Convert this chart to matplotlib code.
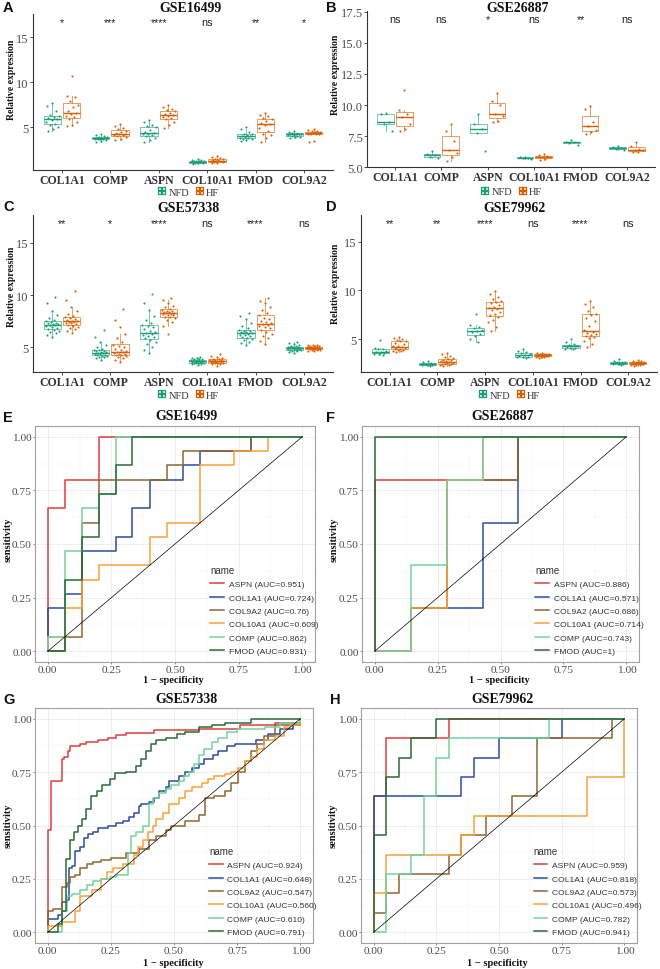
import numpy as np
import matplotlib
matplotlib.use("Agg")
import matplotlib.pyplot as plt
from matplotlib.lines import Line2D

SERIF = ["Liberation Serif", "DejaVu Serif"]
SANS = ["Liberation Sans", "DejaVu Sans"]
plt.rcParams["font.family"] = SERIF

W, H = 660, 970

# ------------------------------------------------------------------------------
# box plot data (one list per gene, order as in `genes`)
genes = ["COL1A1", "COMP", "ASPN", "COL10A1", "FMOD", "COL9A2"]
groups = ["NFD", "HF"]
group_colors = {"NFD": "#1B9E77", "HF": "#D95F02"}

gse16499_nfd = [
	[7.7, 7.4, 6.8, 6.4, 6.2, 6.1, 6.0, 5.9, 5.8, 5.6, 5.4, 5.3, 5.0, 4.8, 4.6],
	[4.2, 4.1, 4.0, 3.95, 3.9, 3.85, 3.8, 3.8, 3.75, 3.7, 3.7, 3.65, 3.6, 3.5, 3.4],
	[5.8, 5.6, 5.3, 5.1, 5.0, 4.7, 4.5, 4.4, 4.3, 4.2, 4.1, 4.0, 3.8, 3.6, 3.4],
	[1.5, 1.4, 1.35, 1.3, 1.25, 1.2, 1.2, 1.15, 1.15, 1.1, 1.1, 1.05, 1.0, 1.0, 0.95],
	[5.0, 4.8, 4.5, 4.3, 4.2, 4.1, 4.0, 4.0, 3.9, 3.85, 3.8, 3.75, 3.7, 3.6, 3.5],
	[4.6, 4.5, 4.4, 4.35, 4.3, 4.25, 4.2, 4.2, 4.15, 4.1, 4.05, 4.0, 3.95, 3.9, 3.8],
]
gse16499_hf = [
	[10.7, 8.5, 8.4, 7.9, 7.5, 7.2, 6.8, 6.6, 6.5, 6.3, 6.1, 5.9, 5.6, 5.3, 5.1],
	[5.4, 5.1, 4.9, 4.8, 4.6, 4.5, 4.4, 4.3, 4.2, 4.15, 4.1, 4.0, 3.9, 3.7, 3.6],
	[7.5, 7.3, 7.0, 6.9, 6.8, 6.6, 6.5, 6.4, 6.3, 6.1, 6.0, 5.9, 5.6, 5.2, 4.9],
	[1.8, 1.7, 1.6, 1.5, 1.45, 1.4, 1.35, 1.3, 1.3, 1.25, 1.2, 1.15, 1.1, 1.05, 1.0],
	[6.6, 6.4, 6.2, 6.0, 5.9, 5.7, 5.5, 5.4, 5.2, 4.9, 4.6, 4.3, 4.1, 3.8, 3.4],
	[4.8, 4.7, 4.6, 4.55, 4.5, 4.45, 4.4, 4.4, 4.35, 4.3, 4.3, 4.25, 4.2, 3.5, 3.4],
]
gse16499_sig = ["*", "***", "****", "ns", "**", "*"]

gse26887_nfd = [
	[9.4, 9.3, 8.6, 8.5, 7.95],
	[6.3, 6.05, 6.0, 5.8, 5.75],
	[9.3, 8.5, 8.1, 7.75, 6.3],
	[5.85, 5.8, 5.78, 5.75, 5.7],
	[7.2, 7.05, 7.0, 6.95, 6.8],
	[6.75, 6.65, 6.55, 6.45, 6.35],
]
gse26887_hf = [
	[11.2, 9.6, 9.3, 9.0, 8.5, 8.1, 7.9],
	[8.5, 7.95, 7.1, 6.35, 6.15, 5.8, 5.5],
	[10.95, 10.3, 10.0, 9.3, 9.15, 8.75, 8.6],
	[6.1, 5.95, 5.9, 5.85, 5.8, 5.7, 5.55],
	[9.9, 9.7, 8.6, 8.3, 8.0, 7.85, 7.7],
	[7.0, 6.7, 6.5, 6.4, 6.35, 6.25, 6.2],
]
gse26887_sig = ["ns", "ns", "*", "ns", "**", "ns"]

gse57338_nfd = [
	[6.0, 6.2, 6.35, 6.5, 6.6, 6.7, 6.75, 6.85, 6.95, 7.0, 7.1, 7.15, 7.2, 7.25, 7.3, 7.35, 7.45, 7.5, 7.6, 7.8, 8.1, 8.5, 9.2, 9.8],
	[3.8, 3.95, 4.05, 4.1, 4.15, 4.2, 4.25, 4.3, 4.35, 4.4, 4.42, 4.45, 4.5, 4.55, 4.6, 4.65, 4.7, 4.75, 4.85, 5.0, 5.2, 5.5, 6.0, 6.7],
	[4.45, 4.7, 5.0, 5.3, 5.5, 5.7, 5.85, 6.0, 6.1, 6.2, 6.3, 6.35, 6.45, 6.6, 6.75, 6.9, 7.0, 7.1, 7.3, 7.6, 8.0, 8.6, 9.2, 10.1],
	[3.3, 3.38, 3.42, 3.45, 3.48, 3.5, 3.53, 3.56, 3.58, 3.6, 3.62, 3.63, 3.65, 3.68, 3.7, 3.73, 3.76, 3.8, 3.83, 3.87, 3.9, 3.95, 4.0, 4.1],
	[5.2, 5.4, 5.55, 5.7, 5.8, 5.87, 5.95, 6.05, 6.15, 6.22, 6.28, 6.33, 6.38, 6.43, 6.5, 6.55, 6.6, 6.67, 6.8, 7.0, 7.3, 7.7, 8.0, 8.3],
	[4.45, 4.55, 4.6, 4.65, 4.7, 4.74, 4.77, 4.8, 4.83, 4.86, 4.88, 4.9, 4.92, 4.95, 4.98, 5.0, 5.03, 5.06, 5.1, 5.15, 5.2, 5.28, 5.38, 5.48],
]
gse57338_hf = [
	[6.4, 6.6, 6.75, 6.85, 6.95, 7.05, 7.1, 7.2, 7.3, 7.35, 7.4, 7.45, 7.5, 7.55, 7.6, 7.7, 7.8, 7.9, 8.0, 8.2, 8.5, 8.9, 9.5, 10.4],
	[3.6, 3.8, 3.95, 4.05, 4.15, 4.25, 4.3, 4.35, 4.4, 4.45, 4.5, 4.52, 4.6, 4.7, 4.85, 5.0, 5.1, 5.25, 5.5, 5.9, 6.3, 6.9, 7.6, 8.7],
	[6.3, 7.0, 7.4, 7.6, 7.8, 7.9, 7.95, 8.05, 8.1, 8.15, 8.2, 8.25, 8.3, 8.35, 8.4, 8.45, 8.5, 8.6, 8.7, 8.85, 9.0, 9.2, 9.5, 9.75],
	[3.25, 3.35, 3.4, 3.45, 3.48, 3.5, 3.55, 3.58, 3.6, 3.62, 3.64, 3.66, 3.68, 3.7, 3.73, 3.76, 3.79, 3.82, 3.86, 3.9, 3.98, 4.05, 4.2, 4.35],
	[5.3, 5.6, 5.9, 6.1, 6.3, 6.5, 6.65, 6.8, 6.95, 7.05, 7.15, 7.22, 7.3, 7.4, 7.55, 7.7, 7.85, 8.05, 8.3, 8.6, 8.9, 9.2, 9.45, 9.7],
	[4.6, 4.66, 4.7, 4.73, 4.76, 4.79, 4.82, 4.85, 4.88, 4.9, 4.92, 4.94, 4.96, 4.98, 5.0, 5.02, 5.04, 5.06, 5.09, 5.12, 5.15, 5.18, 5.22, 5.25],
]
gse57338_sig = ["**", "*", "****", "ns", "****", "ns"]

gse79962_nfd = [
	[4.85, 4.1, 4.0, 3.95, 3.8, 3.7, 3.65, 3.55, 3.5, 3.45, 3.4],
	[2.75, 2.6, 2.5, 2.48, 2.45, 2.42, 2.4, 2.38, 2.35, 2.3, 2.25],
	[7.6, 6.4, 6.2, 6.1, 5.9, 5.8, 5.7, 5.5, 5.35, 5.0, 4.7],
	[3.95, 3.75, 3.65, 3.55, 3.45, 3.35, 3.3, 3.2, 3.15, 3.1, 3.05],
	[5.0, 4.7, 4.45, 4.4, 4.3, 4.28, 4.2, 4.1, 4.05, 4.0, 3.95],
	[2.9, 2.75, 2.65, 2.62, 2.6, 2.56, 2.52, 2.48, 2.45, 2.42, 2.35],
]
gse79962_hf = [
	[5.25, 5.1, 5.0, 4.9, 4.8, 4.75, 4.6, 4.45, 4.3, 4.25, 4.15, 4.1, 4.05, 4.0, 3.95, 3.9, 3.85, 3.8, 3.75, 3.7],
	[3.6, 3.45, 3.3, 3.1, 3.0, 2.9, 2.85, 2.8, 2.75, 2.7, 2.65, 2.6, 2.55, 2.5, 2.45, 2.42, 2.4, 2.35, 2.3, 2.25],
	[9.9, 9.6, 9.3, 9.1, 8.9, 8.8, 8.7, 8.5, 8.3, 8.2, 8.1, 8.0, 7.8, 7.6, 7.45, 7.3, 7.0, 6.7, 6.2, 5.8],
	[3.6, 3.55, 3.5, 3.48, 3.45, 3.42, 3.4, 3.38, 3.36, 3.35, 3.34, 3.32, 3.3, 3.28, 3.26, 3.24, 3.2, 3.15, 3.1, 3.05],
	[8.9, 8.6, 8.3, 7.9, 7.6, 7.5, 7.2, 6.9, 6.3, 5.9, 5.75, 5.6, 5.5, 5.4, 5.3, 5.2, 5.1, 4.8, 4.5, 4.15],
	[2.87, 2.75, 2.7, 2.65, 2.62, 2.6, 2.58, 2.55, 2.53, 2.52, 2.5, 2.48, 2.46, 2.44, 2.42, 2.4, 2.37, 2.34, 2.3, 2.25],
]
gse79962_sig = ["**", "**", "****", "ns", "****", "ns"]

# ------------------------------------------------------------------------------
# ROC data: (1 - specificity, sensitivity) step points
roc_genes = ["ASPN", "COL1A1", "COL9A2", "COL10A1", "COMP", "FMOD"]
roc_colors = ["#DE3D3D", "#2D4C9C", "#8F6633", "#F7A23B", "#74D1A1", "#2A6A37"]

roc_16499 = {
	"ASPN": ([0, 0, 0.067, 0.2, 1.0], [0, 0.667, 0.8, 1.0, 1.0]),
	"COL1A1": ([0, 0, 0.067, 0.133, 0.267, 0.333, 0.4, 0.533, 0.6, 0.8, 1.0],
	           [0, 0.2, 0.267, 0.467, 0.533, 0.667, 0.8, 0.867, 0.933, 1.0, 1.0]),
	"COL9A2": ([0, 0.067, 0.133, 0.2, 0.467, 0.533, 0.8, 1.0], [0, 0.067, 0.6, 0.8, 0.867, 0.933, 1.0, 1.0]),
	"COL10A1": ([0, 0, 0.067, 0.133, 0.2, 0.4, 0.467, 0.6, 0.733, 0.867, 1.0],
	            [0, 0.067, 0.2, 0.333, 0.4, 0.533, 0.6, 0.867, 0.933, 1.0, 1.0]),
	"COMP": ([0, 0, 0.067, 0.133, 0.2, 0.267, 1.0], [0, 0.067, 0.467, 0.667, 0.733, 1.0, 1.0]),
	"FMOD": ([0, 0.067, 0.133, 0.2, 0.267, 0.333, 1.0], [0, 0.333, 0.533, 0.733, 0.867, 1.0, 1.0]),
}
auc_16499 = ["0.951", "0.724", "0.76", "0.609", "0.862", "0.831"]

roc_26887 = {
	"ASPN": ([0, 0, 0.571, 1.0], [0, 0.8, 1.0, 1.0]),
	"COL1A1": ([0, 0.143, 0.429, 0.571, 1.0], [0, 0.2, 0.6, 1.0, 1.0]),
	"COL9A2": ([0, 0.143, 0.286, 0.571, 1.0], [0, 0.2, 0.8, 1.0, 1.0]),
	"COL10A1": ([0, 0.143, 0.286, 0.429, 1.0], [0, 0.2, 0.8, 1.0, 1.0]),
	"COMP": ([0, 0.143, 0.286, 0.429, 1.0], [0, 0.4, 0.8, 1.0, 1.0]),
	"FMOD": ([0, 0, 1.0], [0, 1.0, 1.0]),
}
auc_26887 = ["0.886", "0.571", "0.686", "0.714", "0.743", "1"]

roc_57338 = {
	"ASPN": ([0, 0, 0.015, 0.055, 0.065, 0.08, 0.09, 0.13, 0.15, 0.2, 0.24, 0.27, 0.31, 0.42, 0.6, 0.76, 0.9, 1.0],
	         [0, 0.48, 0.71, 0.81, 0.82, 0.85, 0.87, 0.88, 0.89, 0.9, 0.91, 0.925, 0.935, 0.945, 0.95, 0.97, 0.98, 1.0]),
	"COL1A1": ([0, 0, 0.04, 0.056, 0.075, 0.084, 0.097, 0.11, 0.127, 0.143, 0.16, 0.18, 0.2, 0.24, 0.27, 0.3,
	            0.32, 0.34, 0.36, 0.37, 0.4, 0.42, 0.44, 0.47, 0.48, 0.52, 0.545, 0.57, 0.6, 0.62, 0.655, 0.675,
	            0.71, 0.74, 0.825, 0.87, 0.92, 0.97, 1.0],
	           [0, 0.06, 0.08, 0.14, 0.15, 0.3, 0.31, 0.38, 0.4, 0.44, 0.46, 0.47, 0.49, 0.5, 0.51, 0.52,
	            0.54, 0.56, 0.59, 0.6, 0.61, 0.63, 0.66, 0.68, 0.71, 0.73, 0.75, 0.77, 0.79, 0.81, 0.83, 0.85,
	            0.87, 0.88, 0.9, 0.93, 0.95, 0.97, 1.0]),
	"COL9A2": ([0, 0, 0.02, 0.055, 0.078, 0.09, 0.11, 0.13, 0.156, 0.18, 0.21, 0.25, 0.31, 0.36, 0.4, 0.43,
	            0.47, 0.49, 0.545, 0.6, 0.623, 0.66, 0.7, 0.727, 0.753, 0.78, 0.805, 0.83, 0.857, 0.9, 1.0],
	           [0, 0.1, 0.11, 0.21, 0.23, 0.26, 0.27, 0.3, 0.32, 0.33, 0.34, 0.35, 0.37, 0.39, 0.43, 0.45,
	            0.48, 0.5, 0.52, 0.55, 0.63, 0.64, 0.66, 0.7, 0.75, 0.8, 0.85, 0.88, 0.92, 0.97, 1.0]),
	"COL10A1": ([0, 0, 0.058, 0.11, 0.13, 0.175, 0.21, 0.234, 0.26, 0.3, 0.34, 0.357, 0.377, 0.396, 0.415,
	             0.43, 0.455, 0.48, 0.52, 0.545, 0.57, 0.61, 0.636, 0.66, 0.7, 0.727, 0.753, 0.78, 0.805,
	             0.83, 0.857, 0.9, 0.935, 0.96, 1.0],
	            [0, 0.03, 0.05, 0.1, 0.17, 0.2, 0.25, 0.28, 0.3, 0.32, 0.36, 0.4, 0.43, 0.47, 0.5,
	             0.53, 0.56, 0.6, 0.63, 0.66, 0.68, 0.7, 0.72, 0.73, 0.74, 0.75, 0.77, 0.8, 0.82,
	             0.86, 0.9, 0.92, 0.96, 0.97, 1.0]),
	"COMP": ([0, 0.058, 0.078, 0.097, 0.13, 0.156, 0.18, 0.21, 0.247, 0.27, 0.318, 0.33, 0.35, 0.377, 0.4,
	          0.415, 0.44, 0.47, 0.49, 0.52, 0.54, 0.56, 0.58, 0.6, 0.62, 0.65, 0.675, 0.71, 0.75, 0.86, 0.92, 1.0],
	         [0, 0.1, 0.17, 0.18, 0.2, 0.22, 0.24, 0.25, 0.26, 0.27, 0.37, 0.45, 0.47, 0.5, 0.6,
	          0.63, 0.65, 0.67, 0.69, 0.71, 0.73, 0.75, 0.79, 0.83, 0.86, 0.89, 0.91, 0.94, 0.95, 0.96, 0.98, 1.0]),
	"FMOD": ([0, 0.04, 0.056, 0.071, 0.09, 0.104, 0.12, 0.136, 0.15, 0.17, 0.195, 0.215, 0.247, 0.266, 0.31,
	          0.35, 0.37, 0.39, 0.41, 0.43, 0.47, 0.51, 0.545, 0.6, 0.65, 0.7, 0.805, 1.0],
	         [0, 0.04, 0.1, 0.345, 0.43, 0.47, 0.5, 0.53, 0.577, 0.64, 0.66, 0.69, 0.72, 0.745, 0.75,
	          0.78, 0.81, 0.85, 0.88, 0.9, 0.91, 0.93, 0.94, 0.96, 0.97, 0.98, 1.0, 1.0]),
}
auc_57338 = ["0.924", "0.648", "0.547", "0.560", "0.610", "0.791"]

roc_79962 = {
	"ASPN": ([0, 0, 0.05, 0.3, 1.0], [0, 0.636, 0.909, 1.0, 1.0]),
	"COL1A1": ([0, 0, 0.35, 0.4, 0.5, 0.75, 1.0], [0, 0.636, 0.727, 0.818, 0.909, 1.0, 1.0]),
	"COL9A2": ([0, 0, 0.05, 0.1, 0.3, 0.35, 0.45, 0.55, 0.65, 0.95, 1.0],
	           [0, 0.091, 0.182, 0.273, 0.364, 0.455, 0.545, 0.636, 0.909, 1.0, 1.0]),
	"COL10A1": ([0, 0, 0.05, 0.35, 0.4, 0.85, 1.0], [0, 0.182, 0.364, 0.455, 0.545, 0.727, 1.0]),
	"COMP": ([0, 0.05, 0.15, 0.2, 0.25, 0.3, 0.7, 1.0], [0, 0.273, 0.364, 0.636, 0.818, 0.909, 1.0, 1.0]),
	"FMOD": ([0, 0, 0.05, 0.1, 0.15, 0.25, 1.0], [0, 0.455, 0.727, 0.818, 0.909, 1.0, 1.0]),
}
auc_79962 = ["0.959", "0.818", "0.573", "0.496", "0.782", "0.941"]


fig = plt.figure(figsize=(6.6, 9.7), dpi=100)


# ------------------------------------------------------------------------------
def add_ax(left, top, right, bottom):
	return fig.add_axes([left / W, 1 - bottom / H, (right - left) / W, (bottom - top) / H])


def ftext(x, y, s, **kw):
	fig.text(x / W, 1 - y / H, s, **kw)


# ------------------------------------------------------------------------------
def box_panel(ax, nfd, hf, ylim, yticks, ytl, sig, sig_y, leg_x, leg_y):

	for i in range(len(genes)):
		for vals, off, key in ((nfd[i], -0.2, "NFD"), (hf[i], 0.2, "HF")):
			col = group_colors[key]
			pos = i + 1 + off
			ax.boxplot([vals], positions=[pos], widths=0.36, showfliers=False, showcaps=False,
			           manage_ticks=False,
			           boxprops=dict(color=col, lw=0.7, alpha=0.6),
			           whiskerprops=dict(color=col, lw=0.7, alpha=0.6),
			           medianprops=dict(color=col, lw=1.0))
			n = len(vals)
			jit = ((np.arange(n) * 0.618034 + 0.5) % 1.0 - 0.5) * 0.28
			ax.scatter(pos + jit, vals, s=2.3, color=col, lw=0, zorder=3)
		ax.text(i + 1, sig_y, sig[i], ha="center", va="baseline", fontsize=7.8,
		        family=SANS, color="#222222")

	ax.set_xlim(0.4, 6.6)
	ax.set_ylim(*ylim)
	ax.set_xticks(range(1, 7))
	ax.set_xticklabels(genes, fontsize=8.5, fontweight="bold", color="#333333")
	ax.set_yticks(yticks)
	ax.set_yticklabels(ytl, fontsize=9, color="#4D4D4D")
	ax.tick_params(length=2, width=0.6, color="#333333", pad=1)
	for s in ("top", "right"):
		ax.spines[s].set_visible(False)
	for s in ("left", "bottom"):
		ax.spines[s].set_color("#333333")
		ax.spines[s].set_linewidth(0.8)

	handles = [Line2D([], [], marker=r"$\boxplus$", ls="none", color=group_colors[g],
	                  markersize=6, markeredgewidth=0.2) for g in groups]
	leg = ax.legend(handles, groups, loc="center", bbox_to_anchor=(leg_x, leg_y), ncol=2,
	                frameon=False, prop=dict(family=SERIF, size=7.5), handletextpad=0.1,
	                columnspacing=0.5, handlelength=1.0, borderaxespad=0, borderpad=0)
	for t in leg.get_texts():
		t.set_color("#333333")


# ------------------------------------------------------------------------------
def roc_panel(ax, roc, aucs):

	for j, gene in enumerate(roc_genes):
		fpr, tpr = roc[gene]
		ax.plot(fpr, tpr, drawstyle="steps-post", color=roc_colors[j], lw=1.1,
		        label=f"{gene} (AUC={aucs[j]})")
	ax.plot([0, 1], [0, 1], color="black", lw=0.5)

	ax.set_xlim(-0.05, 1.05)
	ax.set_ylim(-0.05, 1.05)
	ticks = [0, 0.25, 0.5, 0.75, 1.0]
	ax.set_xticks(ticks)
	ax.set_yticks(ticks)
	ax.set_xticklabels([f"{t:.2f}" for t in ticks], fontsize=8.2, color="#4D4D4D")
	ax.set_yticklabels([f"{t:.2f}" for t in ticks], fontsize=8.2, color="#4D4D4D")
	minor = [0.125, 0.375, 0.625, 0.875]
	ax.set_xticks(minor, minor=True)
	ax.set_yticks(minor, minor=True)
	ax.grid(which="major", color="#EBEBEB", lw=0.6)
	ax.grid(which="minor", color="#F5F5F5", lw=0.35)
	ax.set_axisbelow(True)
	ax.tick_params(which="major", length=1.5, width=0.6, color="#777777", pad=1)
	ax.tick_params(which="minor", length=0)
	for s in ax.spines.values():
		s.set_color("#A0A0A0")
		s.set_linewidth(0.8)

	leg = ax.legend(loc="lower left", bbox_to_anchor=(0.62, 0.022), frameon=False,
	                title="name", prop=dict(family=SANS, size=6.1),
	                title_fontproperties=dict(family=SANS, size=7),
	                alignment="left", handlelength=1.6, handletextpad=0.55,
	                labelspacing=0.64, borderaxespad=0, borderpad=0.2)
	for t in leg.get_texts():
		t.set_color("#333333")
	leg.get_title().set_color("#333333")


# ------------------------------------------------------------------------------
def main():

	# --- box plots
	axA = add_ax(33, 15, 333, 171.3)
	box_panel(axA, gse16499_nfd, gse16499_hf, (0.22, 17.59), [5, 10, 15], ["5", "10", "15"],
	          gse16499_sig, 16.4, 0.517, -0.141)

	axB = add_ax(367, 12, 655, 168.3)
	box_panel(axB, gse26887_nfd, gse26887_hf, (5.0, 17.55), [5, 7.5, 10, 12.5, 15, 17.5],
	          ["5.0", "7.5", "10.0", "12.5", "15.0", "17.5"],
	          gse26887_sig, 16.65, 0.5, -0.155)

	axC = add_ax(33, 216, 333, 373)
	box_panel(axC, gse57338_nfd, gse57338_hf, (2.63, 17.68), [5, 10, 15], ["5", "10", "15"],
	          gse57338_sig, 16.6, 0.517, -0.148)

	axD = add_ax(361, 216, 657, 373)
	box_panel(axD, gse79962_nfd, gse79962_hf, (1.61, 17.74), [5, 10, 15], ["5", "10", "15"],
	          gse79962_sig, 16.63, 0.5, -0.148)

	# --- ROC curves
	axE = add_ax(35, 427, 315, 663)
	roc_panel(axE, roc_16499, auc_16499)
	axF = add_ax(362, 427, 639, 663)
	roc_panel(axF, roc_26887, auc_26887)
	axG = add_ax(35, 709, 313, 944)
	roc_panel(axG, roc_57338, auc_57338)
	axH = add_ax(361, 709, 637, 944)
	roc_panel(axH, roc_79962, auc_79962)

	# --- titles
	tkw = dict(ha="center", va="center", fontsize=10, fontweight="bold", color="#111111")
	ftext(191, 8, "GSE16499", **tkw)
	ftext(518, 8, "GSE26887", **tkw)
	ftext(189, 209, "GSE57338", **tkw)
	ftext(515, 209, "GSE79962", **tkw)
	ftext(187, 417, "GSE16499", **tkw)
	ftext(503, 417, "GSE26887", **tkw)
	ftext(186, 700, "GSE57338", **tkw)
	ftext(503, 700, "GSE79962", **tkw)

	# --- panel letters
	lkw = dict(ha="left", va="center", fontsize=10.5, fontweight="bold", family=SANS, color="#111111")
	for x, y, s in ((3, 8, "A"), (326, 8, "B"), (3, 207, "C"), (326, 207, "D"),
	                (3, 418, "E"), (326, 418, "F"), (3, 700, "G"), (330, 700, "H")):
		ftext(x, y, s, **lkw)

	# --- axis titles
	ykw = dict(ha="center", va="center", rotation=90, fontsize=7, fontweight="bold", color="#111111")
	ftext(12, 80, "Relative expression", **ykw)
	ftext(335, 75, "Relative expression", **ykw)
	ftext(12, 287, "Relative expression", **ykw)
	ftext(336, 284, "Relative expression", **ykw)

	skw = dict(ha="center", va="center", rotation=90, fontsize=7.5, fontweight="bold", color="#111111")
	ftext(8, 540, "sensitivity", **skw)
	ftext(334, 540, "sensitivity", **skw)
	ftext(8, 826, "sensitivity", **skw)
	ftext(333, 826, "sensitivity", **skw)

	xkw = dict(ha="center", va="center", fontsize=7.5, fontweight="bold", color="#111111")
	ftext(173, 681, "1 \u2212 specificity", **xkw)
	ftext(499, 681, "1 \u2212 specificity", **xkw)
	ftext(173, 964, "1 \u2212 specificity", **xkw)
	ftext(497, 964, "1 \u2212 specificity", **xkw)

	fig.savefig("out.png", dpi=100, facecolor="white")


# ------------------------------------------------------------------------------
if __name__ == '__main__':
	main()
